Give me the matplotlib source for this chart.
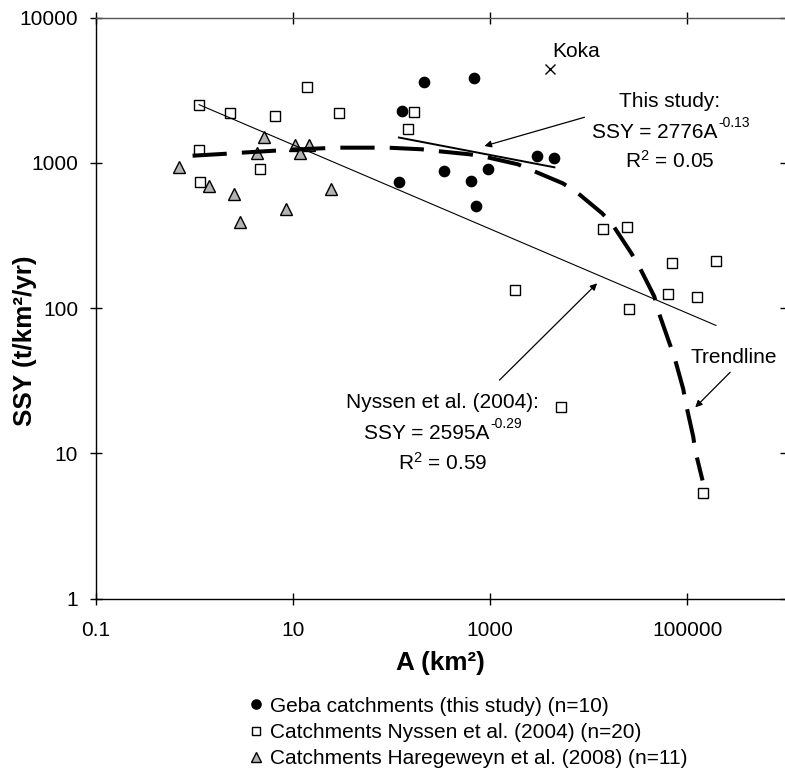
import matplotlib
matplotlib.use('Agg')
import matplotlib.pyplot as plt
from matplotlib.lines import Line2D
from matplotlib.ticker import NullLocator
from matplotlib.transforms import offset_copy

plt.rcParams['font.family'] = ['Liberation Sans', 'DejaVu Sans']
plt.rcParams['mathtext.fontset'] = 'custom'
plt.rcParams['mathtext.rm'] = 'Liberation Sans'
plt.rcParams['mathtext.it'] = 'Liberation Sans:italic'
plt.rcParams['mathtext.bf'] = 'Liberation Sans:bold'

# ---------------- data ----------------
geba_A = [212, 679, 129, 119, 337, 643, 711, 948, 2972, 4487]
geba_SSY = [3613, 3812, 2282, 741, 881, 752, 504, 901, 1113, 1073]

nyssen_A = [1.12, 13.9, 2.31, 6.56, 29.4, 171, 147, 1.12, 4.66, 1.14,
            14090, 24430, 69180, 194900, 1778, 64100, 125000, 25620, 5285, 142600]
nyssen_SSY = [2500, 3310, 2212, 2099, 2212, 2246, 1700, 1224, 901, 741,
              352, 363, 205, 212, 133, 124, 118.5, 98, 20.8, 5.3]

hareg_A = [5.1, 4.38, 0.70, 1.40, 2.54, 2.90, 8.61, 10.6, 14.5, 11.7, 24.4]
hareg_SSY = [1511, 1161, 931, 692, 609, 393, 478, 1325, 1325, 1173, 657]

koka_A = [4035]
koka_SSY = [4400]

# power-law fits shown on the chart: SSY = a * A^b
this_a, this_b = 2776, -0.13
nys_a, nys_b = 2595, -0.29

# dashed overall trendline
trend_A = [0.962, 2.13, 3.02, 6.56, 9.30, 20.2, 29.9, 64.9, 92.1, 200.6, 284.6,
           618.7, 877.7, 1908, 2608, 5447, 7446, 13652, 17240, 26850, 31830,
           46220, 49920, 65570, 73690, 90890, 96780, 114700, 120200, 142500]
trend_SSY = [1118, 1154, 1173, 1211, 1230, 1258, 1270, 1270, 1270, 1238, 1205,
             1143, 1101, 976, 892, 722, 632, 449, 379, 240, 198,
             120, 98, 57.7, 46.2, 27.6, 21.8, 13.0, 10.4, 6.5]

x_ticks = [0.1, 10, 1000, 100000]
x_ticklabels = ['0.1', '10', '1000', '100000']
y_ticks = [1, 10, 100, 1000, 10000]
y_ticklabels = ['1', '10', '100', '1000', '10000']

legend_labels = ['Geba catchments (this study) (n=10)',
                 'Catchments Nyssen et al. (2004) (n=20)',
                 'Catchments Haregeweyn et al. (2008) (n=11)']

# ---------------- figure ----------------
W, H = 785, 774
fig = plt.figure(figsize=(W / 100, H / 100), dpi=100)
px0, px1 = 95.6, 786.0
py0, py1 = 17.5, 598.5
ax = fig.add_axes([px0 / W, 1 - py1 / H, (px1 - px0) / W, (py1 - py0) / H])
ax.set_xscale('log')
ax.set_yscale('log')
ax.set_xlim(0.1, 1e6)
ax.set_ylim(1, 1e4)
ax.set_xticks(x_ticks, labels=x_ticklabels)
ax.set_yticks(y_ticks, labels=y_ticklabels)
ax.xaxis.set_minor_locator(NullLocator())
ax.yaxis.set_minor_locator(NullLocator())
ax.tick_params(axis='both', which='major', direction='inout', length=9, width=1,
               top=True, right=True, labelsize=15, pad=8, colors='black')
ax.tick_params(axis='x', pad=11.5)
for s in ax.spines.values():
    s.set_linewidth(1)
    s.set_color('black')
ax.spines['top'].set_color('#555555')
ax.spines['right'].set_visible(False)

mk = dict(ls='none', mew=1.0)
ax.plot(nyssen_A, nyssen_SSY, marker='s', ms=7.2, mfc='white', mec='black', zorder=3, **mk)
ax.plot(hareg_A, hareg_SSY, marker='^', ms=8, mfc='#b3b3b3', mec='black', zorder=3, **mk)
ax.plot(geba_A, geba_SSY, marker='o', ms=7.4, mfc='black', mec='black', zorder=3, **mk)
ax.plot(koka_A, koka_SSY, marker='x', ms=7, color='black', zorder=3, **mk)

# fitted power laws between the min and max area of each dataset
nA = [min(nyssen_A), max(nyssen_A)]
ax.plot(nA, [nys_a * a ** nys_b for a in nA], color='black', lw=0.8, zorder=4)
gA = [min(geba_A), max(geba_A)]
ax.plot(gA, [this_a * a ** this_b for a in gA], color='black', lw=1.4, zorder=4)

ax.plot(trend_A, trend_SSY, color='black', lw=2.9, ls=(0, (8.5, 3.75)),
        dash_capstyle='butt', zorder=5)

# texts
fs = 15
sfs = 10
ax.text(7500, 5321, 'Koka', ha='center', va='baseline', fontsize=fs)
ax.text(66070, 2432, 'This study:', ha='center', va='baseline', fontsize=fs)
ax.text(202400, 1487, 'SSY = 2776A', ha='right', va='baseline', fontsize=fs)
ax.text(202400, 1487, '-0.13', ha='left', va='baseline', fontsize=sfs,
        transform=offset_copy(ax.transData, fig=fig, x=0.5, y=8, units='points'))
ax.text(66070, 916, 'R$^{2}$ = 0.05', ha='center', va='baseline', fontsize=fs)
ax.text(329.6, 20.4, 'Nyssen et al. (2004):', ha='center', va='baseline', fontsize=fs)
ax.text(986, 12.5, 'SSY = 2595A', ha='right', va='baseline', fontsize=fs)
ax.text(986, 12.5, '-0.29', ha='left', va='baseline', fontsize=sfs,
        transform=offset_copy(ax.transData, fig=fig, x=0.5, y=8, units='points'))
ax.text(329.6, 7.67, 'R$^{2}$ = 0.59', ha='center', va='baseline', fontsize=fs)
ax.text(298500, 41.6, 'Trendline', ha='center', va='baseline', fontsize=fs)

ap = dict(arrowstyle='-|>', color='black', lw=0.9, mutation_scale=10,
          shrinkA=0, shrinkB=0)
ax.annotate('', xy=(877, 1304), xytext=(9040, 2056), arrowprops=ap)
ax.annotate('', xy=(12160, 147.9), xytext=(1245, 31.9), arrowprops=ap)
ax.annotate('', xy=(120200, 20.7), xytext=(271700, 36.1), arrowprops=ap)

fig.text(440 / W, 1 - 663 / H, 'A (km²)', ha='center', va='center',
         fontsize=18.8, fontweight='bold')
fig.text(25 / W, 1 - 341 / H, 'SSY (t/km²/yr)', ha='center', va='center',
         rotation=90, fontsize=18.8, fontweight='bold')

handles = [Line2D([], [], ls='none', marker='o', ms=6.6, mfc='black', mec='black'),
           Line2D([], [], ls='none', marker='s', ms=6.2, mfc='white', mec='black'),
           Line2D([], [], ls='none', marker='^', ms=6.8, mfc='#b3b3b3', mec='black')]
fig.legend(handles, legend_labels, loc='upper left',
           bbox_to_anchor=(249.75 / W, 1 - 696.5 / H), frameon=False, fontsize=fs,
           handlelength=0.6, handletextpad=0.372, borderpad=0, borderaxespad=0,
           labelspacing=0.36)

fig.savefig('out.png', dpi=100)
